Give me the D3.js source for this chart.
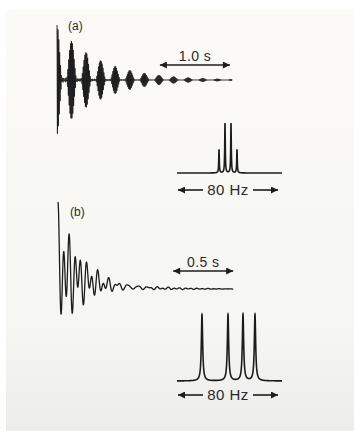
<!DOCTYPE html>
<html>
<head>
<meta charset="utf-8">
<script src="https://cdn.jsdelivr.net/npm/d3@7"></script>
<style>
  html, body { margin: 0; padding: 0; background: #fff; }
  svg { display: block; }
  text { font-family: "Liberation Sans", Arial, sans-serif; fill: #2a2a2a; }
</style>
</head>
<body>
<svg id="chart"></svg>
<script>
// peaks (Hz from the centre of the 80 Hz bar, relative height)
const peakHzA = [-7.2, -2.4, 2.4, 7.2]
const peakAmpA = [0.47, 1, 1, 0.47]
const peakHzB = [-20.8, 0, 12, 21.6]
const peakAmpB = [1, 1, 1, 1]

const panelLabels = ['(a)', '(b)']
const t2Sec = [0.6, 0.25]         // decay time of each FID
const offsetHz = [80, 0]          // receiver offset seen in the FID
const acqSec = [2.5, 1.46]        // length of FID drawn
const barSec = [1.0, 0.5]
const barLabels = ['1.0 s', '0.5 s']
const spanHz = 80
const spanLabel = '80 Hz'

const width = 354
const height = 433

const svg = d3.select('#chart').attr('width', width).attr('height', height)

const defs = svg.append('defs')
const grad = defs.append('linearGradient').attr('id', 'bg')
  .attr('x1', 0).attr('y1', 0).attr('x2', 0).attr('y2', 1)
grad.append('stop').attr('offset', '0%').attr('stop-color', '#fbfaf6')
grad.append('stop').attr('offset', '75%').attr('stop-color', '#f6f6f3')
grad.append('stop').attr('offset', '100%').attr('stop-color', '#ececeb')

svg.append('rect').attr('x', 6).attr('y', 10)
  .attr('width', width - 6).attr('height', 421).attr('fill', 'url(#bg)')

const ink = '#1c1c1c'

const layout = [
  { x0: 57, pxs: 70, yb: 80, amp: 55, barT: 1.47, barY: 65, lx: 68, ly: 30, sb: 173, st: 123, ay: 190, sw: 1.0 },
  { x0: 58, pxs: 120, yb: 289, amp: 87, barT: 0.96, barY: 271, lx: 70, ly: 216, sb: 381, st: 314, ay: 395, sw: 1.3 }
]
const peaks = [
  { hz: peakHzA, amp: peakAmpA },
  { hz: peakHzB, amp: peakAmpB }
]

const marker = (id, dir) => {
  const m = defs.append('marker').attr('id', id)
    .attr('viewBox', '0 0 10 10').attr('refX', dir > 0 ? 10 : 0).attr('refY', 5)
    .attr('markerWidth', 8).attr('markerHeight', 7).attr('markerUnits', 'userSpaceOnUse')
    .attr('orient', 'auto')
  m.append('path').attr('d', dir > 0 ? 'M0,0L10,5L0,10Z' : 'M10,0L0,5L10,10Z').attr('fill', ink)
}
marker('head', 1)
marker('tail', -1)

const xHz = d3.scaleLinear().domain([-spanHz / 2, spanHz / 2]).range([178, 278])

panelLabels.forEach((label, i) => {
  const L = layout[i]
  const P = peaks[i]
  const total = d3.sum(P.amp)

  // FID
  const x = d3.scaleLinear().domain([0, acqSec[i]]).range([L.x0, L.x0 + acqSec[i] * L.pxs])
  const y = d3.scaleLinear().domain([-1, 1]).range([L.yb + L.amp, L.yb - L.amp])
  const n = 8000
  const fid = d3.range(n + 1).map(k => {
    const t = acqSec[i] * k / n
    let s = 0
    P.hz.forEach((f, j) => {
      s += P.amp[j] * Math.cos(2 * Math.PI * (f + offsetHz[i]) * t)
    })
    return [t, s * Math.exp(-t / t2Sec[i]) / total]
  })
  svg.append('path')
    .attr('d', d3.line().x(d => x(d[0])).y(d => y(d[1]))(fid))
    .attr('fill', 'none').attr('stroke', ink).attr('stroke-width', L.sw)

  svg.append('text').attr('x', L.lx).attr('y', L.ly)
    .attr('font-size', 12).text(label)

  // time bar
  const bx0 = x(L.barT)
  const bx1 = x(L.barT + barSec[i])
  svg.append('line').attr('x1', bx0).attr('x2', bx1)
    .attr('y1', L.barY).attr('y2', L.barY)
    .attr('stroke', ink).attr('stroke-width', 1.6)
    .attr('marker-end', 'url(#head)').attr('marker-start', 'url(#tail)')
  svg.append('text').attr('x', (bx0 + bx1) / 2).attr('y', L.barY - 4)
    .attr('text-anchor', 'middle').attr('font-size', 14).attr('letter-spacing', 0.4)
    .text(barLabels[i])

  // spectrum
  const ys = d3.scaleLinear().domain([0, 1]).range([L.sb, L.st])
  const lw = 2 * Math.PI * t2Sec[i]
  const spec = d3.range(-40.8, 43.2, 0.02).map(f => {
    let s = 0
    P.hz.forEach((c, j) => {
      const u = lw * (f - c)
      s += P.amp[j] / (1 + u * u)
    })
    return [f, s]
  })
  const top = d3.max(spec, d => d[1])
  svg.append('path')
    .attr('d', d3.line().x(d => xHz(d[0])).y(d => ys(d[1] / top))(spec))
    .attr('fill', 'none').attr('stroke', ink).attr('stroke-width', 1.6)

  // 80 Hz bar
  svg.append('line').attr('x1', xHz(-spanHz / 2)).attr('x2', xHz(-spanHz / 2) + 25)
    .attr('y1', L.ay).attr('y2', L.ay).attr('stroke', ink).attr('stroke-width', 1.6)
    .attr('marker-start', 'url(#tail)')
  svg.append('line').attr('x1', xHz(spanHz / 2) - 25).attr('x2', xHz(spanHz / 2))
    .attr('y1', L.ay).attr('y2', L.ay).attr('stroke', ink).attr('stroke-width', 1.6)
    .attr('marker-end', 'url(#head)')
  svg.append('text').attr('x', xHz(0)).attr('y', L.ay + 5)
    .attr('text-anchor', 'middle').attr('font-size', 15).attr('letter-spacing', 0.5)
    .text(spanLabel)
})
</script>
</body>
</html>
